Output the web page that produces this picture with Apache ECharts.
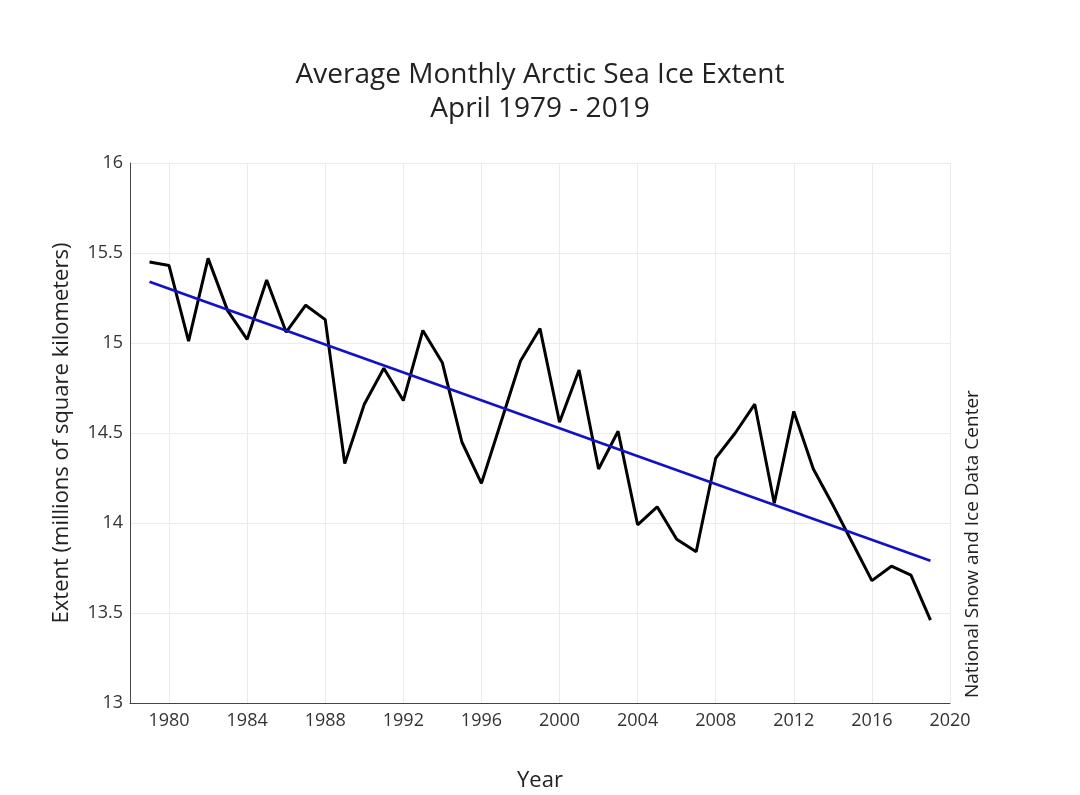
<!DOCTYPE html>
<html>
<head>
<meta charset="utf-8">
<script src="https://cdn.jsdelivr.net/npm/echarts@6/dist/echarts.min.js"></script>
<style>html,body{margin:0;padding:0;background:#fff}#chart{width:1080px;height:795px}</style>
</head>
<body>
<div id="chart"></div>
<script>
const years = [1979,1980,1981,1982,1983,1984,1985,1986,1987,1988,1989,1990,1991,1992,1993,1994,1995,1996,1997,1998,1999,2000,2001,2002,2003,2004,2005,2006,2007,2008,2009,2010,2011,2012,2013,2014,2015,2016,2017,2018,2019];
const extent = [15.45,15.43,15.01,15.47,15.18,15.02,15.35,15.06,15.21,15.13,14.33,14.66,14.86,14.68,15.07,14.89,14.45,14.22,14.56,14.90,15.08,14.56,14.85,14.30,14.51,13.99,14.09,13.91,13.84,14.36,14.50,14.66,14.11,14.62,14.30,14.10,13.89,13.68,13.76,13.71,13.46];
const trendYears = [1979, 2019];
const trendValues = [15.34, 13.79];
const xTickYears = [1980,1984,1988,1992,1996,2000,2004,2008,2012,2016,2020];
const titleLines = ['Average Monthly Arctic Sea Ice Extent', 'April 1979 - 2019'];
const yAxisName = 'Extent (millions of square kilometers)';
const xAxisName = 'Year';
const sourceText = 'National Snow and Ice Data Center';

const font = '"Open Sans", "Noto Sans", sans-serif';
const chart = echarts.init(document.getElementById('chart'), null, {renderer: 'canvas'});
chart.setOption({
  backgroundColor: '#fff',
  animation: false,
  title: {
    text: titleLines.join('\n'),
    left: 'center',
    top: 53,
    textStyle: {fontFamily: font, fontSize: 28, fontWeight: 'normal', color: '#222', lineHeight: 34}
  },
  grid: {left: 130, right: 130, top: 163, bottom: 92, containLabel: false, outerBoundsMode: 'none'},
  xAxis: {
    type: 'value',
    min: 1978, max: 2020,
    name: xAxisName,
    nameLocation: 'middle',
    nameGap: 67,
    nameTextStyle: {fontFamily: font, fontSize: 22, color: '#222'},
    axisLine: {show: true, lineStyle: {color: '#444', width: 1}},
    axisTick: {show: false, customValues: xTickYears},
    axisLabel: {
      fontFamily: font, fontSize: 18, color: '#333', margin: 9,
      customValues: xTickYears,
      formatter: v => String(v)
    },
    splitLine: {show: true, lineStyle: {color: '#ebebeb', width: 1}}
  },
  yAxis: {
    type: 'value',
    min: 13, max: 16, interval: 0.5,
    name: yAxisName,
    nameLocation: 'middle',
    nameGap: 57,
    nameTextStyle: {fontFamily: font, fontSize: 22, color: '#222'},
    axisLine: {show: true, lineStyle: {color: '#444', width: 1}},
    axisTick: {show: false},
    axisLabel: {fontFamily: font, fontSize: 18, color: '#333', margin: 7},
    splitLine: {show: true, lineStyle: {color: '#ebebeb', width: 1}}
  },
  graphic: [{
    type: 'text',
    x: 973, y: 698,
    rotation: Math.PI / 2,
    style: {text: sourceText, fontFamily: font, fontSize: 19, fill: '#222', textAlign: 'left', textVerticalAlign: 'middle'}
  }],
  series: [
    {
      type: 'line',
      data: years.map((y, i) => [y, extent[i]]),
      showSymbol: false,
      lineStyle: {color: '#000', width: 3},
      z: 2
    },
    {
      type: 'line',
      data: trendYears.map((y, i) => [y, trendValues[i]]),
      showSymbol: false,
      lineStyle: {color: '#1212c4', width: 2.8},
      z: 3
    }
  ]
});
</script>
</body>
</html>
